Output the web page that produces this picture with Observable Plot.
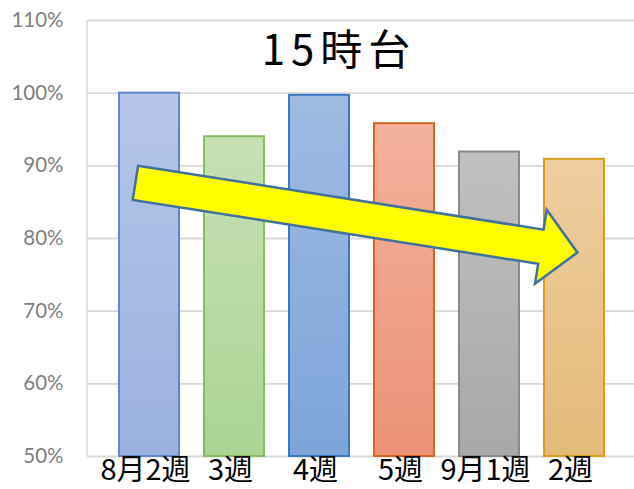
<!DOCTYPE html>
<html><head><meta charset="utf-8">
<script src="https://cdn.jsdelivr.net/npm/d3@7"></script>
<script src="https://cdn.jsdelivr.net/npm/@observablehq/plot@0.6"></script>
<style>body{margin:0;background:#fff}</style>
</head><body><div id="chart"></div>
<script>
const categories = ["8月2週", "3週", "4週", "5週", "9月1週", "2週"];
const values = [100, 94, 99.7, 95.8, 91.9, 90.9];
const yTicks = [50, 60, 70, 80, 90, 100, 110];
const title = "15時台";
const arrowStart = {category: "8月2週", shift: -0.16, value: 87.6};
const arrowEnd = {category: "2週", shift: 0.04, value: 78.0};

const palette = [
  {top: "#b5c6e8", bottom: "#9bb1df", stroke: "#6188cf"},
  {top: "#c6e0b5", bottom: "#abd494", stroke: "#86bd62"},
  {top: "#9fbbe2", bottom: "#7da4d9", stroke: "#3a79bf"},
  {top: "#f3b19d", bottom: "#eb9277", stroke: "#d6651f"},
  {top: "#c0c0c0", bottom: "#a8a8a8", stroke: "#8a8a8a"},
  {top: "#eecd9f", bottom: "#e4ba79", stroke: "#d4a01c"}
];

const data = categories.map((c, i) => ({category: c, value: values[i], fill: `url(#grad${i})`, stroke: palette[i].stroke}));

const NS = "http://www.w3.org/2000/svg";
function el(name, attrs) {
  const e = document.createElementNS(NS, name);
  for (const k in attrs) e.setAttribute(k, attrs[k]);
  return e;
}

function defsMark(index, scales, vals, dims) {
  const g = el("g", {});
  const defs = el("defs", {});
  palette.forEach((p, i) => {
    const lg = el("linearGradient", {id: `grad${i}`, x1: 0, y1: 0, x2: 0, y2: 1});
    lg.appendChild(el("stop", {offset: "0%", "stop-color": p.top}));
    lg.appendChild(el("stop", {offset: "100%", "stop-color": p.bottom}));
    defs.appendChild(lg);
  });
  g.appendChild(defs);
  g.appendChild(el("line", {x1: dims.marginLeft, x2: dims.marginLeft, y1: dims.marginTop, y2: dims.height - dims.marginBottom, stroke: "#d9d9d9", "stroke-width": 1.5}));
  return g;
}

function arrowMark(index, scales, vals, dims) {
  const x = scales.x, y = scales.y;
  const bw = x.bandwidth();
  const step = x.step ? x.step() : bw;
  const px = (p) => x(p.category) + bw / 2 + p.shift * step;
  const x0 = px(arrowStart), y0 = y(arrowStart.value);
  const x1 = px(arrowEnd), y1 = y(arrowEnd.value);
  const dx = x1 - x0, dy = y1 - y0, L = Math.hypot(dx, dy);
  const ux = dx / L, uy = dy / L, nx = uy, ny = -ux;
  const h = 17.3, H = 37.5, hl = 37;
  const pt = (a, b) => [x0 + ux * a + nx * b, y0 + uy * a + ny * b];
  const pts = [pt(0, h), pt(L - hl, h), pt(L - hl, H), pt(L, 0), pt(L - hl, -H), pt(L - hl, -h), pt(0, -h)];
  return el("polygon", {points: pts.map(p => p.join(",")).join(" "), fill: "#ffff00", stroke: "#41719c", "stroke-width": 2.5, "stroke-linejoin": "miter"});
}

const chart = Plot.plot({
  width: 634,
  height: 489,
  marginTop: 20,
  marginBottom: 33,
  marginLeft: 87,
  marginRight: 0,
  style: {background: "#fff"},
  x: {domain: categories, range: [117, 606], paddingInner: 0.29, paddingOuter: 0, label: null},
  y: {domain: [50, 110], label: null},
  color: {type: "identity"},
  marks: [
    Plot.ruleY(yTicks, {stroke: "#d9d9d9", strokeWidth: 1.8}),
    defsMark,
    Plot.barY(data, {x: "category", y1: 50, y2: "value", fill: "fill", stroke: "stroke", strokeWidth: 2}),
    arrowMark,
    Plot.axisY({ticks: yTicks, tickFormat: d => d + "%", tickSize: 0, tickPadding: 24, fontSize: 20.5, fontFamily: "Lato", color: "#7f7f7f"}),
    Plot.axisX({tickSize: 0, tickPadding: 3, dx: -4, fontSize: 29, fontFamily: "Noto Sans CJK JP", color: "#000"}),
    Plot.text([title], {frameAnchor: "top", dx: -22, dy: 31, fontSize: 42, fontFamily: "Noto Sans CJK JP", fill: "#000", lineAnchor: "middle"})
  ]
});
chart.querySelectorAll('g[aria-label="text"] text').forEach(t => t.style.letterSpacing = "6px");
document.getElementById("chart").appendChild(chart);
</script>
</body></html>
